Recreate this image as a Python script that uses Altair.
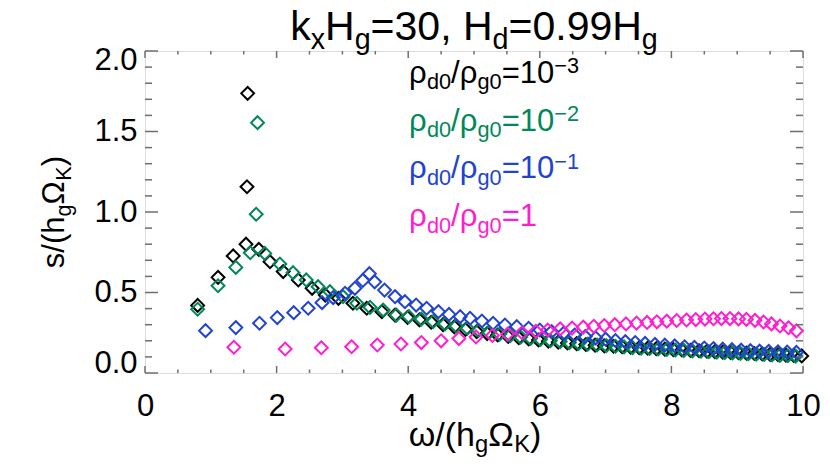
import altair as alt
import pandas as pd

# ---------------- data ----------------
x_1e3 = [0.80, 1.11, 1.34, 1.535, 1.55, 1.56, 1.73, 1.90, 2.10, 2.33, 2.54, 2.74, 2.94, 3.16, 3.37, 3.60, 3.80,
         3.99, 4.17, 4.35, 4.53, 4.70, 4.87, 5.04, 5.20, 5.36, 5.52, 5.68, 5.83, 5.98, 6.13, 6.28, 6.42, 6.56,
         6.70, 6.84, 6.98, 7.12, 7.25, 7.38, 7.51, 7.64, 7.77, 7.90, 8.03, 8.16, 8.29, 8.42, 8.54, 8.66, 8.78,
         8.90, 9.02, 9.14, 9.26, 9.38, 9.50, 9.62, 9.74, 9.86, 9.98]
y_1e3 = [0.42, 0.594, 0.727, 0.80, 1.157, 1.737, 0.768, 0.691, 0.63, 0.578, 0.526, 0.484, 0.464, 0.433, 0.402,
         0.381, 0.36, 0.345, 0.33, 0.315, 0.300, 0.287, 0.270, 0.257, 0.245, 0.236, 0.227, 0.219, 0.212, 0.205,
         0.198, 0.192, 0.187, 0.182, 0.177, 0.173, 0.169, 0.166, 0.163, 0.160, 0.157, 0.154, 0.151, 0.148, 0.145,
         0.143, 0.140, 0.138, 0.135, 0.133, 0.130, 0.128, 0.126, 0.123, 0.121, 0.119, 0.116, 0.114, 0.111, 0.109,
         0.106]

x_1e2 = [0.80, 1.11, 1.38, 1.60, 1.69, 1.71, 1.82, 2.05, 2.25, 2.45, 2.63, 2.81, 3.01, 3.22, 3.42, 3.62, 3.82,
         4.01, 4.20, 4.38, 4.56, 4.73, 4.90, 5.07, 5.23, 5.39, 5.55, 5.71, 5.86, 6.01, 6.16, 6.31, 6.45, 6.59,
         6.73, 6.87, 7.01, 7.15, 7.28, 7.41, 7.54, 7.67, 7.80, 7.93, 8.06, 8.19, 8.32, 8.45, 8.57, 8.69, 8.81,
         8.93, 9.05, 9.17, 9.29, 9.41, 9.53, 9.65, 9.77, 9.89]
y_1e2 = [0.396, 0.542, 0.656, 0.747, 0.986, 1.555, 0.743, 0.677, 0.623, 0.578, 0.536, 0.505, 0.474, 0.433, 0.408,
         0.391, 0.36, 0.35, 0.335, 0.32, 0.305, 0.292, 0.278, 0.264, 0.252, 0.242, 0.232, 0.223, 0.215, 0.208,
         0.201, 0.195, 0.189, 0.184, 0.179, 0.174, 0.170, 0.166, 0.162, 0.158, 0.155, 0.152, 0.149, 0.146, 0.143,
         0.140, 0.137, 0.135, 0.132, 0.130, 0.127, 0.125, 0.122, 0.120, 0.117, 0.115, 0.112, 0.110, 0.107, 0.105]

x_1e1 = [0.92, 1.38, 1.74, 2.01, 2.26, 2.48, 2.69, 2.86, 3.04, 3.19, 3.31, 3.41, 3.49, 3.64, 3.80, 3.95, 4.12,
         4.28, 4.46, 4.62, 4.79, 4.94, 5.12, 5.29, 5.47, 5.65, 5.83, 6.00, 6.18, 6.36, 6.53, 6.69, 6.85, 7.00,
         7.15, 7.30, 7.45, 7.60, 7.75, 7.90, 8.05, 8.20, 8.35, 8.50, 8.64, 8.78, 8.92, 9.06, 9.20, 9.34, 9.48,
         9.62, 9.76, 9.90]
y_1e1 = [0.263, 0.282, 0.309, 0.344, 0.375, 0.402, 0.437, 0.468, 0.495, 0.526, 0.575, 0.617, 0.566, 0.515, 0.474,
         0.443, 0.422, 0.402, 0.381, 0.364, 0.350, 0.340, 0.323, 0.309, 0.298, 0.288, 0.278, 0.267, 0.257, 0.246,
         0.236, 0.226, 0.218, 0.210, 0.202, 0.195, 0.189, 0.184, 0.178, 0.173, 0.168, 0.163, 0.159, 0.155, 0.152,
         0.148, 0.145, 0.142, 0.139, 0.136, 0.134, 0.132, 0.130, 0.128]

x_1 = [1.35, 2.13, 2.68, 3.14, 3.53, 3.89, 4.20, 4.50, 4.77, 5.03, 5.28, 5.51, 5.73, 5.94, 6.12, 6.31, 6.49, 6.66,
       6.82, 6.98, 7.14, 7.31, 7.47, 7.63, 7.78, 7.93, 8.08, 8.23, 8.37, 8.51, 8.64, 8.76, 8.89, 9.02, 9.14, 9.27,
       9.40, 9.52, 9.65, 9.78, 9.90]
y_1 = [0.160, 0.149, 0.157, 0.163, 0.174, 0.180, 0.189, 0.200, 0.214, 0.224, 0.233, 0.241, 0.250, 0.259, 0.267,
       0.274, 0.279, 0.285, 0.290, 0.295, 0.300, 0.305, 0.310, 0.314, 0.318, 0.322, 0.326, 0.329, 0.332, 0.335,
       0.337, 0.338, 0.338, 0.336, 0.333, 0.327, 0.317, 0.305, 0.292, 0.281, 0.262]

series_names = ["1e-3", "1e-2", "1e-1", "1"]
series_colors = ["#000000", "#00875a", "#2143d0", "#ff1ecf"]
series_x = [x_1e3, x_1e2, x_1e1, x_1]
series_y = [y_1e3, y_1e2, y_1e1, y_1]

x_major = [0, 2, 4, 6, 8, 10]
x_minor = [0.5, 1, 1.5, 2.5, 3, 3.5, 4.5, 5, 5.5, 6.5, 7, 7.5, 8.5, 9, 9.5]
y_major = [0, 0.5, 1.0, 1.5, 2.0]
y_minor = [0.1, 0.2, 0.3, 0.4, 0.6, 0.7, 0.8, 0.9, 1.1, 1.2, 1.3, 1.4, 1.6, 1.7, 1.8, 1.9]

# ---------------- layout / style ----------------
PW, PH = 658, 322
FONT = "Liberation Sans, Arial, Helvetica, sans-serif"
FRAME = "#6e6e6e"
LBL = 31
SUBF = 0.7

rows = []
for name, xs, ys in zip(series_names, series_x, series_y):
    for a, b in zip(xs, ys):
        rows.append({"s": name, "w": a, "v": b})
df = pd.DataFrame(rows)

XS = alt.Scale(domain=[0, 10], nice=False, zero=False)
YS = alt.Scale(domain=[0, 2], nice=False, zero=False)

points = alt.Chart(df).mark_point(shape="diamond", filled=False, size=165, strokeWidth=2, opacity=1).encode(
    x=alt.X("w:Q", scale=XS,
            axis=alt.Axis(values=x_major, format="d", title=None, ticks=False, tickSize=0, domain=False,
                          grid=False, labelFontSize=LBL, labelFont=FONT, labelColor="black",
                          labelPadding=18, labelFlush=False)),
    y=alt.Y("v:Q", scale=YS,
            axis=alt.Axis(values=y_major, format=".1f", title=None, ticks=False, tickSize=0, domain=False,
                          grid=False, labelFontSize=LBL, labelFont=FONT, labelColor="black",
                          labelPadding=8, labelFlush=True, labelFlushOffset=6)),
    color=alt.Color("s:N", scale=alt.Scale(domain=series_names, range=series_colors), legend=None),
)

def tick_layer(vals, horizontal_axis, length, side):
    d = pd.DataFrame({"t": vals})
    base = alt.Chart(d).mark_rule(color=FRAME, strokeWidth=1.5)
    if horizontal_axis:
        y0, y1 = (PH, PH - length) if side == "bottom" else (0, length)
        return base.encode(x=alt.X("t:Q", scale=XS), y=alt.value(y0), y2=alt.value(y1))
    x0, x1 = (0, length) if side == "left" else (PW, PW - length)
    return base.encode(y=alt.Y("t:Q", scale=YS), x=alt.value(x0), x2=alt.value(x1))

ticks = []
for side in ["bottom", "top"]:
    ticks.append(tick_layer(x_major, True, 7, side))
    ticks.append(tick_layer(x_minor, True, 3.5, side))
for side in ["left", "right"]:
    ticks.append(tick_layer(y_major, False, 13, side))
    ticks.append(tick_layer(y_minor, False, 7, side))

# ---------------- rich text (sub/superscripts) ----------------
ADV = {" ": 0.278, "(": 0.333, ")": 0.333, ",": 0.278, ".": 0.278, "/": 0.278, "=": 0.584, "\u2212": 0.584,
       "H": 0.722, "K": 0.667, "k": 0.5, "x": 0.5, "g": 0.556, "d": 0.556, "h": 0.556, "s": 0.5,
       "\u03c1": 0.577, "\u03c9": 0.781, "\u03a9": 0.765}
for ch in "0123456789":
    ADV[ch] = 0.556

def adv(t):
    return sum(ADV.get(c, 0.556) for c in t)

ONE = pd.DataFrame({"z": [0]})

def rich(segs, x0, y0, size, color, angle=0, center=False, sub_shift=0.21):
    sizes = [size * (1 if k == "n" else SUBF) for _, k in segs]
    total = sum(adv(t) * s for (t, _), s in zip(segs, sizes))
    pos = -total / 2 if center else 0.0
    out = []
    for (t, k), fs in zip(segs, sizes):
        shift = {"n": 0.0, "b": sub_shift * size, "p": -0.30 * size}[k]
        if angle == 0:
            px, py = x0 + pos, y0 + shift
        else:
            px, py = x0 + shift, y0 - pos
        out.append(alt.Chart(ONE).mark_text(text=t, fontSize=fs, color=color, font=FONT, align="left",
                                            baseline="alphabetic", angle=angle)
                   .encode(x=alt.value(px), y=alt.value(py)))
        pos += adv(t) * fs
    return out

texts = []
texts += rich([("k", "n"), ("x", "b"), ("H", "n"), ("g", "b"), ("=30, H", "n"), ("d", "b"),
               ("=0.99H", "n"), ("g", "b")], PW / 2, -11, 41, "black", center=True)
texts += rich([("\u03c9/(h", "n"), ("g", "b"), ("\u03a9", "n"), ("K", "b"), (")", "n")],
              PW / 2 + 1, 395, 34, "black", center=True, sub_shift=0.18)
texts += rich([("s/(h", "n"), ("g", "b"), ("\u03a9", "n"), ("K", "b"), (")", "n")],
              -81, PH / 2, LBL, "black", angle=270, center=True)

legend_sup = ["\u22123", "\u22122", "\u22121", None]
legend_y = [31.7, 79.7, 127, 175]
for sup, ly, col in zip(legend_sup, legend_y, series_colors):
    segs = [("\u03c1", "n"), ("d0", "b"), ("/\u03c1", "n"), ("g0", "b")]
    if sup is None:
        segs.append(("=1", "n"))
    else:
        segs += [("=10", "n"), (sup, "p")]
    texts += rich(segs, 264, ly, LBL, col)

chart = alt.layer(points, *ticks, *texts).properties(
    width=PW, height=PH,
    autosize=alt.AutoSizeParams(type="none"),
    padding={"left": 137, "top": 43, "right": 19, "bottom": 86},
).configure_view(stroke=FRAME, strokeWidth=2).configure(background="white")

chart.save("out.html", embed_options={"renderer": "svg", "actions": False})
